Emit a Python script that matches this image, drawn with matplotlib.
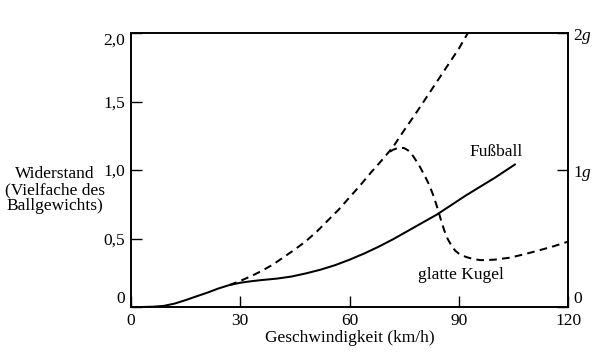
import matplotlib
matplotlib.use("Agg")
import matplotlib.pyplot as plt

plt.rcParams['font.family'] = ['Liberation Serif', 'DejaVu Serif']
plt.rcParams['mathtext.fontset'] = 'custom'
plt.rcParams['mathtext.rm'] = 'Liberation Serif'
plt.rcParams['mathtext.it'] = 'Liberation Serif:italic'

# Fußball (solid)
fb_x = [0, 3, 6, 9, 12, 15, 18, 21, 24, 27, 30, 33, 36, 40, 44, 48, 52, 56, 60, 64, 68,
        72, 76, 80, 84, 88, 92, 96, 100, 105.4]
fb_y = [0, 0, 0.002, 0.008, 0.025, 0.05, 0.078, 0.105, 0.135, 0.16, 0.177, 0.188, 0.197,
        0.207, 0.222, 0.245, 0.272, 0.305, 0.345, 0.39, 0.44, 0.495, 0.555, 0.615, 0.675,
        0.745, 0.815, 0.88, 0.945, 1.04]

# quadratic law (dashed, upper branch)
q_x = [27, 30, 33, 36, 39, 42, 45, 48, 51, 54, 57, 60, 63, 66, 69, 72, 75, 78, 81, 84,
       87, 90, 92.5]
q_y = [0.16, 0.19, 0.225, 0.265, 0.31, 0.365, 0.42, 0.48, 0.55, 0.63, 0.71, 0.8, 0.89,
       0.985, 1.075, 1.17, 1.29, 1.405, 1.525, 1.645, 1.765, 1.885, 2.0]

# glatte Kugel (dashed, drag crisis)
gk_x = [71.1, 72, 73, 74, 75, 76, 77, 78, 79, 80, 81, 82, 83, 84, 85, 86, 87, 88, 89, 90,
        92, 94, 96, 98, 100, 104, 108, 112, 116, 120]
gk_y = [1.134, 1.148, 1.158, 1.162, 1.16, 1.145, 1.12, 1.08, 1.04, 0.99, 0.94, 0.885,
        0.815, 0.735, 0.645, 0.56, 0.495, 0.448, 0.412, 0.39, 0.365, 0.35, 0.342, 0.343,
        0.346, 0.36, 0.385, 0.413, 0.443, 0.477]

x_ticks = [0, 30, 60, 90, 120]
x_ticklabels = ['0', '30', '60', '90', '120']
y_ticks = [0, 0.5, 1.0, 1.5, 2.0]
y_ticklabels = ['0', '0,5', '1,0', '1,5', '2,0']
r_ticks = [0, 1.0, 2.0]
r_ticklabels = ['0', '1$\\mathit{g}$', '2$\\mathit{g}$']

FS = 12.5
fig = plt.figure(figsize=(6.0, 3.63), dpi=100)
ax = fig.add_axes([0.2183, 0.1543, 0.7284, 0.7547])
ax.set_xlim(0, 120)
ax.set_ylim(0, 2.0)

lw = 1.45
dash = (0, (3.8, 2.6))
ax.plot(fb_x, fb_y, color='black', lw=lw, solid_joinstyle='round')
ax.plot(q_x, q_y, color='black', lw=lw, ls=dash)
ax.plot(gk_x, gk_y, color='black', lw=lw, ls=dash)

for s in ax.spines.values():
    s.set_linewidth(1.2)

ax.set_xticks(x_ticks)
ax.set_xticklabels(x_ticklabels)
ax.set_yticks(y_ticks)
ax.set_yticklabels(y_ticklabels)
ax.tick_params(axis='both', direction='in', length=8, width=1.0, labelsize=FS)
ax.tick_params(axis='x', pad=4)
ax.tick_params(axis='y', pad=4.3)
ylabs = ax.get_yticklabels()
ylabs[0].set_va('bottom')
ylabs[-1].set_va('top')

ax2 = ax.twinx()
ax2.set_ylim(0, 2.0)
ax2.set_yticks(r_ticks)
ax2.set_yticklabels(r_ticklabels)
ax2.tick_params(axis='y', direction='in', length=8, width=1.0, labelsize=FS, pad=3.6)
rlabs = ax2.get_yticklabels()
rlabs[0].set_va('bottom')
for s in ax2.spines.values():
    s.set_linewidth(1.2)

ax.set_xlabel('Geschwindigkeit (km/h)', fontsize=FS, labelpad=1)
fig.text(0.092, 0.4766, 'Widerstand\n(Vielfache des\nBallgewichts)', ha='center', va='center',
         fontsize=FS, linespacing=1.02)

ax.text(100.2, 1.13, 'Fußball', ha='center', va='center', fontsize=FS)
ax.text(90.6, 0.234, 'glatte Kugel', ha='center', va='center', fontsize=FS)

fig.savefig('out.png', dpi=100)
